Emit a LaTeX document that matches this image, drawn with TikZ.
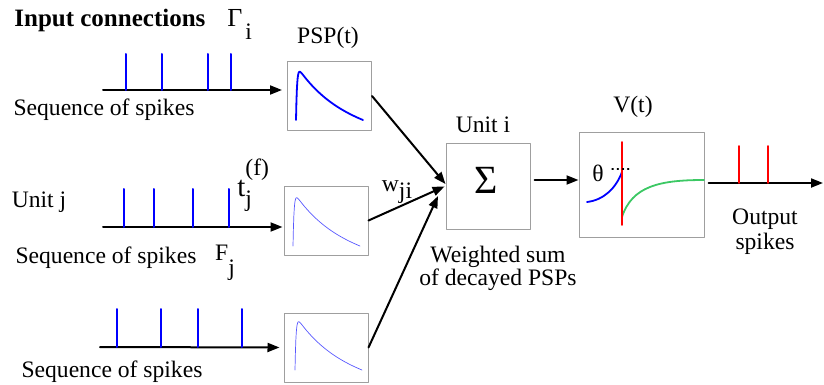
\documentclass[tikz,border=0pt]{standalone}
\usepackage{fontspec}
\setmainfont{Liberation Serif}
\usetikzlibrary{arrows.meta}
\definecolor{resetgreen}{RGB}{60,200,100}

\begin{document}
\begin{tikzpicture}[x=0.5pt, y=-0.5pt, line cap=round, line join=round,
	font=\fontsize{11.8}{11.5}\selectfont,
	pspbox/.style={draw=gray!75, line width=0.5pt, inner sep=0pt, minimum width=42pt, minimum height=34.5pt},
	conn/.style={-{Triangle[length=6pt,width=4.5pt]}, line width=1pt},
	spike/.style={line width=1pt},
	lbl/.style={inner sep=0pt}]
	\useasboundingbox (0,0) rectangle (824,385);

	% Titel und Beschriftungen links
	\node[lbl, anchor=base west] (title) at (14,27) {{\fontsize{12.5}{13}\selectfont\bfseries Input connections}\hspace{11pt}{\fontsize{13}{13}\selectfont Γ}\hspace{1.5pt}\raisebox{-1.2ex}{i}};
	\node[lbl] (pspt) at (328,38) {PSP(t)};
	\node[lbl] (seq1) at (104,110) {Sequence of spikes};
	\node[lbl] (unitj) at (39,202) {Unit j};
	\node[lbl, anchor=base west] (tjf) at (237,196) {{\fontsize{14.5}{14.5}\selectfont t}\rlap{\raisebox{1.9ex}{(f)}}\raisebox{-1ex}{j}};
	\node[lbl] (seq2) at (106,258) {Sequence of spikes};
	\node[lbl] (fj) at (225,263) {F\raisebox{-1.4ex}{j}};
	\node[lbl] (seq3) at (112,372) {Sequence of spikes};

	% PSP-Kaesten
	\node[pspbox] (psp1) at (329.5,96) {};
	\node[pspbox] (psp2) at (326,220.5) {};
	\node[pspbox] (psp3) at (326,347.5) {};

	% PSP-Kurven
	\foreach \px/\py/\lw/\col in {296/120/0.9pt/blue, 293/246/0.35pt/blue!65, 295/370/0.35pt/blue!65}
		\draw[\col, line width=\lw] plot[domain=0:1, samples=160] ({\px+67*\x}, {\py-55*(exp(-\x/0.6)-0.189*\x-exp(-\x/0.015))});

	% Spikefolgen
	\coordinate (in1) at (103,90);
	\coordinate (in2) at (103,227);
	\coordinate (in3) at (100,347);
	\draw[conn, shorten >=2.5pt] (in1) -- ([yshift=3pt]psp1.west);
	\draw[conn, shorten >=0.5pt] (in2) -- ([yshift=-3.25pt]psp2.west);
	\draw[conn, shorten >=2pt] (in3) -- (psp3.west);
	\foreach \sx in {126,162,208,231}
		\draw[spike, blue] (\sx,90) -- (\sx,54);
	\foreach \sx in {124,154,193,229}
		\draw[spike, blue] (\sx,227) -- (\sx,189);
	\foreach \sx in {117,161,198,242}
		\draw[spike, blue] (\sx,347) -- (\sx,309);

	% Summation
	\node[pspbox, minimum width=42pt, minimum height=43pt] (sum) at (488,186) {};
	\node[lbl, font=\fontsize{20}{20}\selectfont] (sigma) at (486,180) {Σ};
	\node[lbl] (uniti) at (483,125) {Unit i};
	\node[lbl, align=center] (wsum) at (498,268) {Weighted sum\\of decayed PSPs};
	\node[lbl] (wji) at (397,192) {w\raisebox{-0.7ex}{ji}};
	\coordinate (sumin3) at (438,196);
	\draw[conn] (psp1.east) -- ([yshift=1pt]sum.west);
	\draw[conn, shorten >=0.5pt] (psp2.east) -- (sum.west);
	\draw[conn] (psp3.east) -- (sumin3);

	% Membranpotential
	\node[pspbox, minimum width=62.5pt, minimum height=52pt] (vbox) at (641.5,185) {};
	\node[lbl] (vt) at (633,107) {V(t)};
	\draw[conn, shorten <=2pt] ([yshift=3pt]sum.east) -- ([yshift=2.5pt]vbox.west);
	\draw[blue, line width=0.9pt] (587,202) .. controls (604,200) and (616,188) .. (622,172);
	\draw[resetgreen, line width=0.9pt] (622,217) .. controls (632,186) and (660,180) .. (704,180);
	\draw[red, line width=0.9pt] (622,142) -- (622,225);
	\draw[dotted, line width=0.6pt] (612,169) -- (632,169);
	\node[lbl] (theta) at (598,173) {θ};

	% Ausgang
	\coordinate (out) at (823,183);
	\draw[conn, shorten <=2pt] ([yshift=1pt]vbox.east) -- (out);
	\foreach \sx in {739,768}
		\draw[spike, red, line width=0.8pt] (\sx,183) -- (\sx,146);
	\node[lbl, align=center, font=\fontsize{11.8}{12.5}\selectfont] (outlbl) at (765,232) {Output\\spikes};
\end{tikzpicture}
\end{document}
